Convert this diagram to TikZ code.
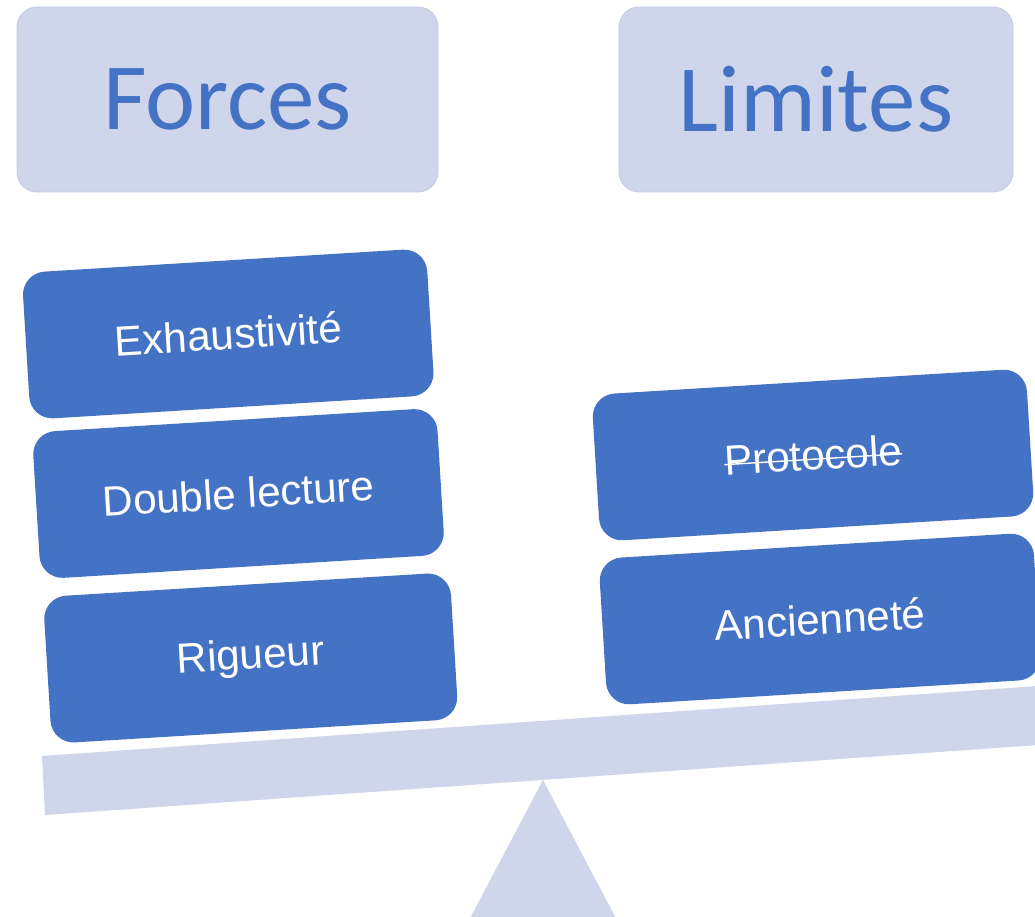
\documentclass[tikz,border=0pt]{standalone}
\usepackage{fontspec}
\setmainfont{Liberation Sans}
\newfontfamily\headfont{Carlito}

\definecolor{accentblue}{HTML}{4472C4}
\definecolor{paleblue}{HTML}{CFD5EA}

% struck-through word
\newcommand{\strikeword}[1]{\sbox0{#1}\rlap{\rule[0.24em]{\wd0}{0.8pt}}\usebox0}

\tikzset{
  headbox/.style={fill=paleblue, draw=paleblue!92!accentblue, line width=0.5pt,
    rounded corners=0.4cm, minimum width=#1, minimum height=3.7cm, inner sep=0pt,
    text=accentblue, font=\headfont\fontsize{54}{60}\selectfont},
  itembox/.style={fill=accentblue, rounded corners=0.46cm, rotate=3.5,
    minimum width=#1, minimum height=2.94cm, inner sep=0pt,
    text=white, font=\fontsize{24}{28}\selectfont},
}

\begin{document}
\begin{tikzpicture}
    \useasboundingbox (0,0) rectangle (20.7,18.32);
    \clip (0,0) rectangle (20.7,18.32);
    % ---------------------------------------------
    \node[headbox=8.42cm] (forces) at (4.55, 16.33) {Forces};
    \node[headbox=7.88cm] (limites) at (16.32, 16.33) {Limites};

    % fulcrum and beam
    \fill[paleblue] (10.86, 2.72) -- (8.96, -0.88) -- (12.76, -0.88) -- cycle;
    \fill[paleblue] (0.84, 3.20) -- (22.0, 4.688) -- (22.0, 3.507) -- (0.90, 2.02) -- cycle;

    % forces side
    \node[itembox=8.1cm] (exhaust) at (4.565, 11.64) {Exhaustivité};
    \node[itembox=8.1cm] (lecture) at (4.77, 8.45) {Double lecture};
    \node[itembox=8.15cm] (rigueur) at (5.015, 5.16) {Rigueur};

    % limits side
    \node[itembox=8.7cm] (protocole) at (16.26, 9.22) {\strikeword{Protocole}};
    \node[itembox=8.7cm] (anciennete) at (16.40, 5.94) {Ancienneté};

\end{tikzpicture}
\end{document}
